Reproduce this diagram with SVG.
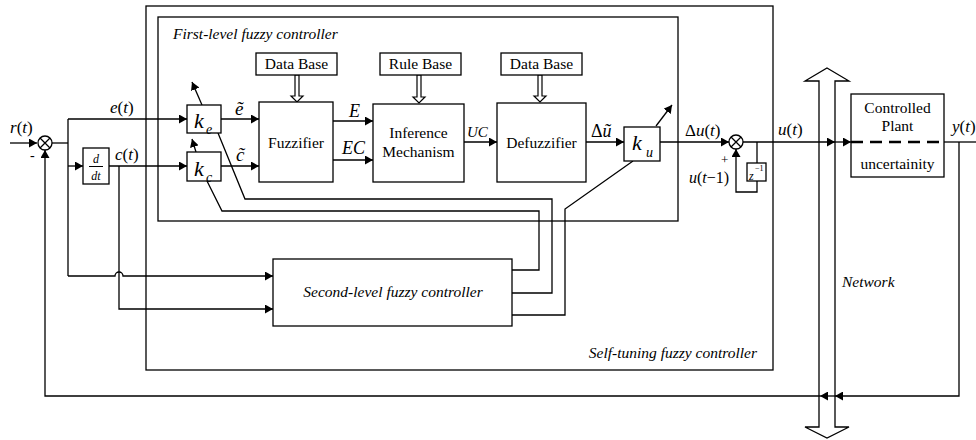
<svg xmlns="http://www.w3.org/2000/svg" width="976" height="440" viewBox="0 0 976 440">
<defs>
<marker id="ah" markerUnits="userSpaceOnUse" markerWidth="9" markerHeight="9" refX="8" refY="4.5" orient="auto">
<path d="M0,0 L8,4.5 L0,9 z" fill="#000"/>
</marker>
</defs>
<style>
.ln{fill:none;stroke:#000;stroke-width:1.3}
.bx{fill:#fff;stroke:#000;stroke-width:1.3}
.fr{fill:none;stroke:#000;stroke-width:1.3}
.ar{fill:none;stroke:#000;stroke-width:1.3;marker-end:url(#ah)}
.hol{fill:#fff;stroke:#000;stroke-width:1.2}
</style>
<rect width="976" height="440" fill="#fff"/>

<g id="self-tuning-frame">
<rect class="fr" x="146" y="6" width="627" height="364"/>
<text x="757" y="358" text-anchor="end" style="font:italic 15.5px 'Liberation Serif',serif">Self-tuning fuzzy controller</text>
</g>
<g id="first-level-frame">
<rect class="fr" x="158" y="17" width="520" height="204"/>
<text x="173" y="39" style="font:italic 15.5px 'Liberation Serif',serif">First-level fuzzy controller</text>
</g>

<g id="network">
<path class="fr" d="M827,68 L849,81 L835,81 L835,427 L849,427 L827,438 L805,427 L819,427 L819,81 L805,81 Z"/>
<text x="842" y="287" style="font:italic 15.5px 'Liberation Serif',serif">Network</text>
</g>

<g id="connectors">
<path class="ar" d="M10,143 H37"/>
<path class="ln" d="M52,143 H68"/>
<path class="ln" d="M68,119 V276"/>
<path class="ar" d="M68,119 H187"/>
<path class="ar" d="M68,166 H83"/>
<path class="ar" d="M109,166 H187"/>
<path class="ar" d="M68,276 H115 A4,4 0 0 1 123,276 H273"/>
<path class="ar" d="M119,166 V309 H273"/>
<path class="ar" d="M221,119 H259"/>
<path class="ar" d="M221,166 H259"/>
<path class="ar" d="M333,121 H373"/>
<path class="ar" d="M333,160 H373"/>
<path class="ar" d="M464,142 H497"/>
<path class="ar" d="M586,142 H624"/>
<path class="ar" d="M660,142 H729"/>
<path class="ar" d="M743,142 H835"/>
<path class="ar" d="M835,142 H851"/>
<path class="ln" d="M944,142 H976"/>
<path class="ar" d="M959,142 V396 H835"/>
<path class="ar" d="M835,396 H820"/>
<path class="ar" d="M820,396 H45 V150"/>
<path class="ln" d="M757,142 V163"/>
<path class="ar" d="M757,181 V192 H736 V149"/>
<path class="ln" d="M218,133 L245,199 H552 V293 H512"/>
<path class="ln" d="M207,181 L222,211 H539 V270 H512"/>
<path class="ln" d="M633,161 L565,209 V315 H512"/>
<path class="ar" d="M202,105 L192,82"/>
<path class="ar" d="M196,152 L192,139"/>
<path class="ar" d="M656,126 L672,105"/>
<path class="hol" d="M295,75 H299 V96 H303 L297,102 L291,96 H295 Z"/>
<path class="hol" d="M417,75 H421 V97 H425 L419,103 L413,97 H417 Z"/>
<path class="hol" d="M538,75 H542 V96 H546 L540,102 L534,96 H538 Z"/>
</g>

<g id="sum-r">
<circle class="bx" cx="45" cy="143" r="7"/>
<path class="ln" d="M40,138 L50,148 M50,138 L40,148"/>
<text x="10" y="133" style="font:italic 17px 'Liberation Serif',serif">r<tspan style="font-style:normal">(</tspan>t<tspan style="font-style:normal">)</tspan></text>
<text x="30" y="160" style="font:14px 'Liberation Serif',serif">-</text>
</g>

<g id="label-e">
<text x="110" y="113" style="font:italic 17px 'Liberation Serif',serif">e<tspan style="font-style:normal">(</tspan>t<tspan style="font-style:normal">)</tspan></text>
</g>
<g id="label-c">
<text x="115" y="160" style="font:italic 17px 'Liberation Serif',serif">c<tspan style="font-style:normal">(</tspan>t<tspan style="font-style:normal">)</tspan></text>
</g>

<g id="ddt">
<rect class="bx" x="83" y="148" width="26" height="36"/>
<text x="96" y="163" text-anchor="middle" style="font:italic 12px 'Liberation Serif',serif">d</text>
<path d="M89,166.5 H103" fill="none" stroke="#000" stroke-width="1"/>
<text x="96" y="180" text-anchor="middle" style="font:italic 12px 'Liberation Serif',serif">dt</text>
</g>

<g id="ke">
<rect class="bx" x="187" y="105" width="34" height="28"/>
<text x="194" y="128" style="font:italic 22px 'Liberation Serif',serif">k</text>
<text x="206" y="134" style="font:italic 14px 'Liberation Serif',serif">e</text>
</g>
<g id="kc">
<rect class="bx" x="187" y="152" width="34" height="29"/>
<text x="194" y="176" style="font:italic 22px 'Liberation Serif',serif">k</text>
<text x="206" y="182" style="font:italic 14px 'Liberation Serif',serif">c</text>
</g>

<g id="label-etilde">
<text x="235" y="115" style="font:italic 19px 'Liberation Serif',serif">ẽ</text>
</g>
<g id="label-ctilde">
<text x="236" y="161" style="font:italic 19px 'Liberation Serif',serif">c̃</text>
</g>

<g id="databaseA">
<rect class="bx" x="256" y="53" width="81" height="22"/>
<text x="296.5" y="69" text-anchor="middle" style="font:15.5px 'Liberation Serif',serif">Data Base</text>
</g>
<g id="rulebase">
<rect class="bx" x="380" y="53" width="81" height="22"/>
<text x="420.5" y="69" text-anchor="middle" style="font:15.5px 'Liberation Serif',serif">Rule Base</text>
</g>
<g id="databaseB">
<rect class="bx" x="501" y="53" width="81" height="22"/>
<text x="541.5" y="69" text-anchor="middle" style="font:15.5px 'Liberation Serif',serif">Data Base</text>
</g>

<g id="fuzzifier">
<rect class="bx" x="259" y="102" width="74" height="80"/>
<text x="296" y="148" text-anchor="middle" style="font:15.5px 'Liberation Serif',serif">Fuzzifier</text>
</g>
<g id="label-E">
<text x="349" y="117" style="font:italic 18px 'Liberation Serif',serif">E</text>
</g>
<g id="label-EC">
<text x="342" y="154" style="font:italic 18px 'Liberation Serif',serif">EC</text>
</g>

<g id="inference">
<rect class="bx" x="373" y="104" width="91" height="78"/>
<text x="418.5" y="138" text-anchor="middle" style="font:15.5px 'Liberation Serif',serif">Inference</text>
<text x="418.5" y="157" text-anchor="middle" style="font:15.5px 'Liberation Serif',serif">Mechanism</text>
</g>
<g id="label-UC">
<text x="467" y="137" style="font:italic 15px 'Liberation Serif',serif">UC</text>
</g>

<g id="defuzzifier">
<rect class="bx" x="497" y="103" width="89" height="79"/>
<text x="541.5" y="148" text-anchor="middle" style="font:15.5px 'Liberation Serif',serif">Defuzzifier</text>
</g>
<g id="label-du-tilde">
<text x="591" y="137" style="font:18px 'Liberation Serif',serif">Δ<tspan style="font-style:italic">ũ</tspan></text>
</g>

<g id="ku">
<rect class="bx" x="624" y="127" width="36" height="34"/>
<text x="632" y="150" style="font:italic 22px 'Liberation Serif',serif">k</text>
<text x="646" y="157" style="font:italic 14px 'Liberation Serif',serif">u</text>
</g>

<g id="label-du">
<text x="685" y="136" style="font:17px 'Liberation Serif',serif">Δ<tspan style="font-style:italic">u</tspan>(<tspan style="font-style:italic">t</tspan>)</text>
</g>

<g id="sum-u">
<circle class="bx" cx="736" cy="142" r="7"/>
<path class="ln" d="M731,137 L741,147 M741,137 L731,147"/>
<text x="721" y="164" style="font:13px 'Liberation Serif',serif;fill:#000">+</text>
<text x="689" y="183" style="font:16px 'Liberation Serif',serif"><tspan style="font-style:italic">u</tspan>(<tspan style="font-style:italic">t</tspan>−1)</text>
</g>

<g id="zdelay">
<rect class="bx" x="747" y="163" width="19" height="18"/>
<text x="749" y="180" style="font:italic 12px 'Liberation Serif',serif">z</text>
<text x="755" y="171" style="font:8px 'Liberation Serif',serif">−1</text>
</g>

<g id="label-u">
<text x="778" y="135" style="font:17px 'Liberation Serif',serif"><tspan style="font-style:italic">u</tspan>(<tspan style="font-style:italic">t</tspan>)</text>
</g>

<g id="plant">
<rect class="bx" x="851" y="94" width="93" height="83"/>
<path d="M851,142 H944" fill="none" stroke="#000" stroke-width="2.5" stroke-dasharray="12 7"/>
<text x="897.5" y="113" text-anchor="middle" style="font:15.5px 'Liberation Serif',serif">Controlled</text>
<text x="897.5" y="131" text-anchor="middle" style="font:15.5px 'Liberation Serif',serif">Plant</text>
<text x="897.5" y="169" text-anchor="middle" style="font:15.5px 'Liberation Serif',serif">uncertainity</text>
</g>

<g id="label-y">
<text x="952" y="132" style="font:17px 'Liberation Serif',serif"><tspan style="font-style:italic">y</tspan>(<tspan style="font-style:italic">t</tspan>)</text>
</g>

<g id="second-level">
<rect class="bx" x="273" y="259" width="239" height="67"/>
<text x="393" y="297" text-anchor="middle" style="font:italic 15.5px 'Liberation Serif',serif">Second-level fuzzy controller</text>
</g>
</svg>
